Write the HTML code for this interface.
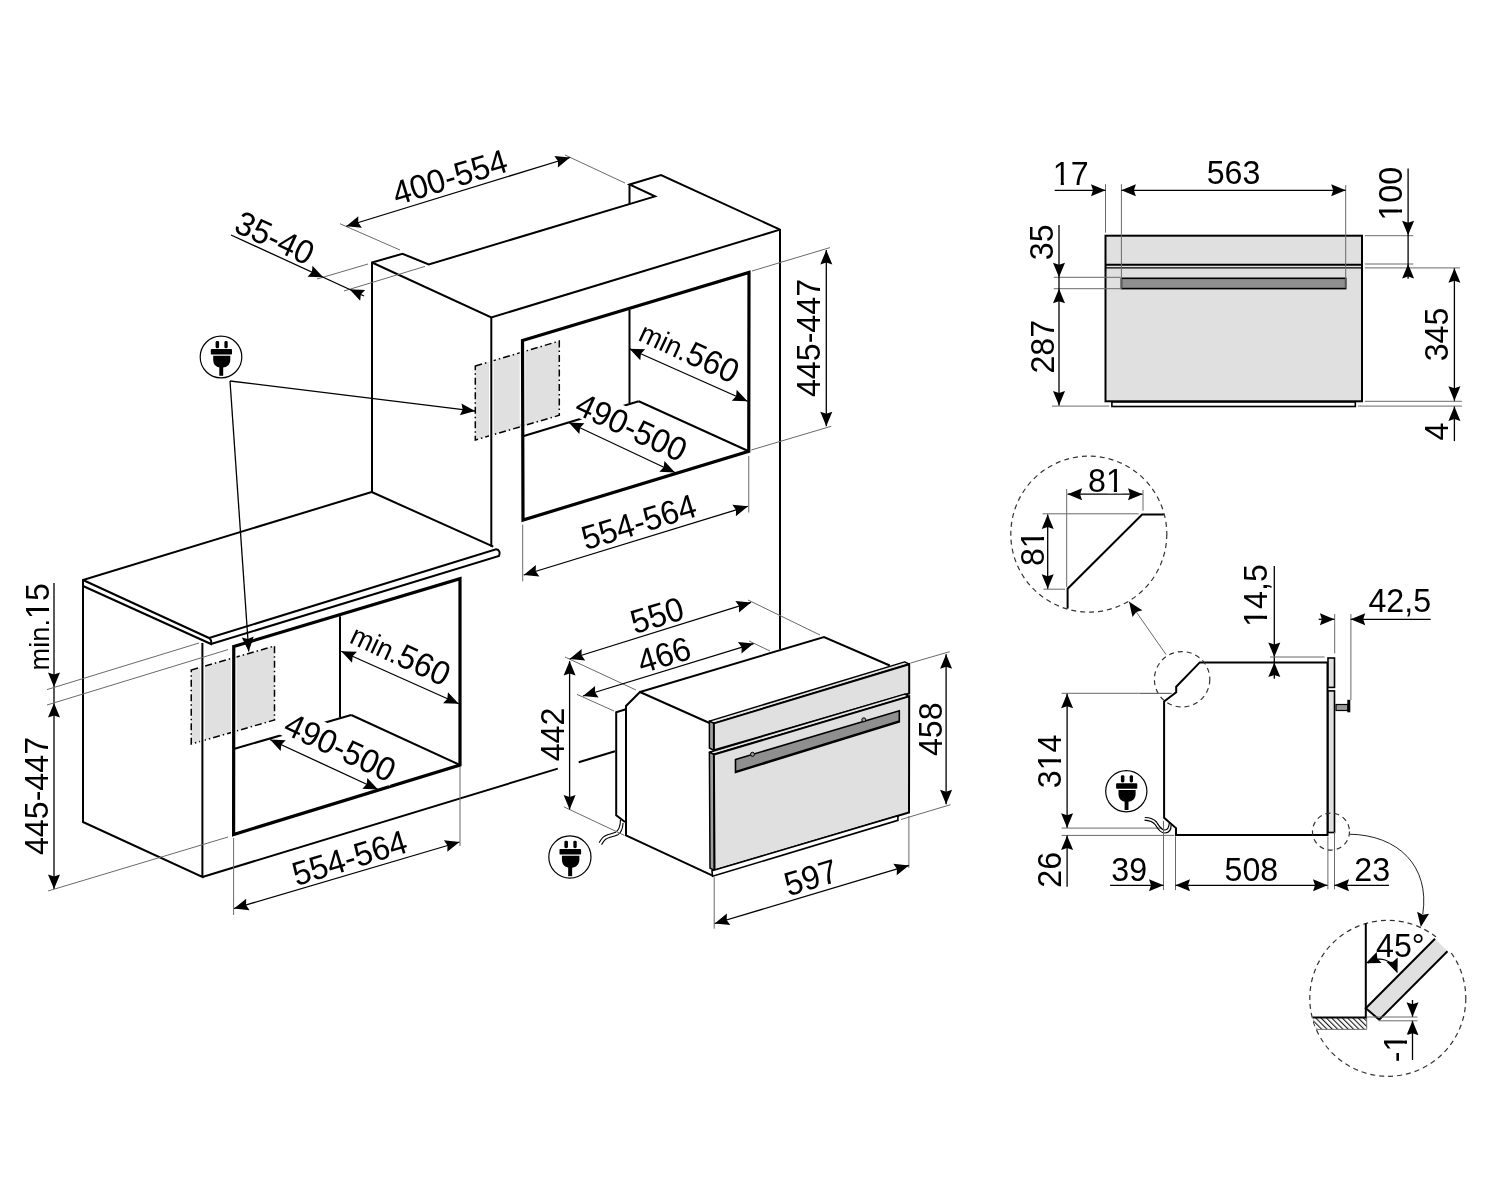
<!DOCTYPE html>
<html><head><meta charset="utf-8"><style>html,body{margin:0;padding:0;background:#fff;width:1500px;height:1200px;overflow:hidden}svg{display:block;will-change:transform}</style></head><body>
<svg width="1500" height="1200" viewBox="0 0 1500 1200">
<defs><style>
.k{fill:none;stroke:#000;stroke-width:2;stroke-linejoin:miter;stroke-linecap:butt}
.t{fill:none;stroke:#000;stroke-width:3.2;stroke-linejoin:miter;stroke-linecap:square}
.d{fill:none;stroke:#000;stroke-width:1.3}
.e{fill:none;stroke:#6a6a6a;stroke-width:1}
.ah{fill:#000;stroke:none}
.tx{font-family:"Liberation Sans",sans-serif;font-size:33.6px;fill:#000;text-anchor:middle}
.th{font-family:"Liberation Sans",sans-serif;font-size:33.6px;fill:#000;text-anchor:middle;stroke:#fff;stroke-width:7;paint-order:stroke;stroke-linejoin:round}
.sh{fill:#e0e0e0;stroke:#000;stroke-width:1.5;stroke-dasharray:7 3 1.5 3}
.dc{fill:none;stroke:#333;stroke-width:1.2;stroke-dasharray:5 4}
.gp{fill:#e0e0e0;stroke:#000;stroke-width:2}
.hd{fill:#8f8f8f;stroke:#000;stroke-width:1.6}
.st2{fill:#e6e6e6;stroke:#000;stroke-width:1.5;stroke-linejoin:round}
.st{fill:#a0a0a0;stroke:#000;stroke-width:1.5;stroke-linejoin:round}
.wg{stroke:#fff;stroke-width:5;fill:none}
.w4{stroke:#fff;stroke-width:4.6;fill:none}
.w5{stroke:#fff;stroke-width:5.6;fill:none}
.bs{fill:#fff;stroke:#000;stroke-width:1.6}
</style>
<pattern id="hatch" patternUnits="userSpaceOnUse" width="3.75" height="3.75" patternTransform="rotate(-45)"><rect width="3.75" height="3.75" fill="#fff"/><line x1="0.6" y1="0" x2="0.6" y2="3.75" stroke="#000" stroke-width="1.0"/></pattern>
</defs>
<rect width="1500" height="1200" fill="#fff"/>
<polygon class="sh" points="475.3,366 559.3,341.1 559.3,415.3 475.3,440"/>
<polygon class="sh" points="191.25,670 274.5,646 274.5,720 191.25,744"/>
<line class="w4" x1="491.3" y1="356" x2="491.3" y2="442"/>
<line class="w5" x1="522.5" y1="341.5" x2="522.5" y2="424"/>
<line class="w4" x1="202.4" y1="664" x2="202.4" y2="746.5"/>
<line class="w5" x1="233.75" y1="647.5" x2="233.75" y2="738"/>
<polyline class="k" points="372,492 372,262.5 402.5,253.75 428.75,264.5 655,196.4 629.5,184.5 661,175 780,229.6 780,649"/>
<line class="k" x1="629.5" y1="184.5" x2="629.5" y2="203.8"/>
<polyline class="k" points="372,262.5 491.3,317.5 780,229.6"/>
<line class="k" x1="491.3" y1="317.5" x2="491.3" y2="546.7"/>
<line class="k" x1="371.7" y1="492" x2="493.3" y2="546.7"/>
<polyline class="k" points="83,586 83,580 371.7,492"/>
<path class="k" d="M83,580 L209,638 Q212,640 211,644 L83,586"/>
<path class="k" d="M209,638 L496,549.3 Q501,550 499,556 L211,644"/>
<polyline class="k" points="83,586 83,822 202.4,877 202.4,643"/>
<line class="k" x1="202.4" y1="877" x2="557.8" y2="768.6"/>
<line class="k" x1="578.7" y1="762.2" x2="615" y2="751.2"/>
<polygon class="t" points="522.5,340.5 749,272.4 748.75,451.25 523,520"/>
<line class="k" x1="629.5" y1="310" x2="629.5" y2="403"/>
<line class="k" x1="638.75" y1="401.25" x2="748.75" y2="451.25"/>
<line class="k" x1="523" y1="436.25" x2="638.75" y2="401.25"/>
<polygon class="t" points="233.75,646.5 460,578.75 460,765 233.6,834.5"/>
<line class="k" x1="340" y1="616.25" x2="340" y2="717.5"/>
<line class="k" x1="351.25" y1="715" x2="460" y2="765"/>
<line class="k" x1="233.75" y1="749" x2="351.25" y2="715"/>
<circle cx="221" cy="357" r="20.8" fill="#fff" stroke="#000" stroke-width="1.2"/>
<g transform="translate(221.5 357) scale(1)" fill="#000"><rect x="-5.9" y="-16.0" width="3.5" height="7.3" rx="1.4"/><rect x="2.9" y="-16.0" width="3.3" height="7.3" rx="1.4"/><rect x="-10.7" y="-7.9" width="21.2" height="5.4" rx="0.8"/><path d="M-8.3,-1.3 L8.8,-1.3 L8.8,2.5 C8.8,8 5,10.3 1.5,10.5 L-1,10.5 C-5,10.3 -8.3,8 -8.3,2.5 Z"/><rect x="-2.2" y="9.5" width="3.9" height="9.3"/></g>
<line class="d" x1="230" y1="381" x2="475.1" y2="411.1"/>
<polygon class="ah" points="475.1,411.1 459.98,415.29 462.69,409.58 461.44,403.38"/>
<line class="d" x1="230" y1="381" x2="248.75" y2="651.5"/>
<polygon class="ah" points="248.75,651.5 241.76,637.45 247.89,639.03 253.73,636.62"/>
<line class="e" x1="340" y1="223.75" x2="400" y2="250"/>
<line class="e" x1="565" y1="155" x2="625" y2="183"/>
<line class="d" x1="346.25" y1="226.25" x2="570" y2="157.5"/>
<polygon class="ah" points="346.25,226.25 358.35,216.26 358.2,222.58 361.87,227.73"/>
<polygon class="ah" points="570,157.5 557.9,167.49 558.05,161.17 554.38,156.02"/>
<text class="tx" x="0" y="12.03" transform="translate(449.6 176.8) rotate(-17) scale(0.958 1)">400-554</text>
<line class="e" x1="317" y1="279" x2="368" y2="264"/>
<line class="e" x1="344" y1="291" x2="425" y2="266.4"/>
<line class="d" x1="231" y1="235" x2="364" y2="296"/>
<polygon class="ah" points="323.2,277.3 307.52,276.71 311.84,272.09 312.52,265.8"/>
<polygon class="ah" points="349.5,289.35 365.18,289.94 360.86,294.56 360.18,300.85"/>
<text class="tx" x="0" y="12.03" transform="translate(275 237.4) rotate(25) scale(0.958 1)">35-40</text>
<line class="d" x1="629.5" y1="348.75" x2="747.5" y2="401.25"/>
<polygon class="ah" points="629.5,348.75 645.19,349.16 640.92,353.83 640.31,360.13"/>
<polygon class="ah" points="747.5,401.25 731.81,400.84 736.08,396.17 736.69,389.87"/>
<text class="tx" x="0" y="12.03" transform="translate(689.6 351) rotate(25) scale(0.958 1)"><tspan style="font-size:28.4px">min.</tspan>560</text>
<line class="d" x1="568.75" y1="422.5" x2="675" y2="472.5"/>
<polygon class="ah" points="568.75,422.5 584.42,423.25 580.06,427.82 579.32,434.1"/>
<polygon class="ah" points="675,472.5 659.33,471.75 663.69,467.18 664.43,460.9"/>
<rect x="-61.05" y="-16.2" width="122.1" height="30.6" fill="#fff" transform="translate(631.5 426.8) rotate(25)"/>
<text class="tx" x="0" y="12.03" transform="translate(631.5 426.8) rotate(25) scale(0.958 1)">490-500</text>
<line class="e" x1="522.7" y1="524.7" x2="522.7" y2="581.3"/>
<line class="e" x1="748.75" y1="456" x2="748.75" y2="512.5"/>
<line class="d" x1="523.75" y1="575" x2="748" y2="506.25"/>
<polygon class="ah" points="523.75,575 535.85,565.01 535.7,571.34 539.37,576.49"/>
<polygon class="ah" points="748,506.25 735.9,516.24 736.05,509.91 732.38,504.76"/>
<text class="tx" x="0" y="12.03" transform="translate(638.6 521.6) rotate(-17) scale(0.958 1)">554-564</text>
<line class="e" x1="752" y1="271" x2="830" y2="247.6"/>
<line class="e" x1="751.25" y1="450" x2="831.25" y2="426.25"/>
<line class="d" x1="826.3" y1="250" x2="826.3" y2="426.25"/>
<polygon class="ah" points="826.3,250 832.3,264.5 826.3,262.5 820.3,264.5"/>
<polygon class="ah" points="826.3,426.25 820.3,411.75 826.3,413.75 832.3,411.75"/>
<text class="tx" x="0" y="12.03" transform="translate(808.2 338) rotate(-90) scale(0.958 1)">445-447</text>
<line class="d" x1="54" y1="583" x2="54" y2="889"/>
<polygon class="ah" points="54,687 48,672.5 54,674.5 60,672.5"/>
<polygon class="ah" points="54,703 60,717.5 54,715.5 48,717.5"/>
<polygon class="ah" points="54,889 48,874.5 54,876.5 60,874.5"/>
<line class="e" x1="47" y1="689.6" x2="199" y2="643"/>
<line class="e" x1="47" y1="705" x2="228" y2="649.6"/>
<line class="e" x1="48" y1="891" x2="228" y2="837"/>
<text class="tx" x="0" y="12.03" transform="translate(37.1 626.8) rotate(-90) scale(0.958 1)"><tspan style="font-size:28.4px">min.</tspan>15</text>
<path d="M9.9,8.22H16.44V13.03H9.9Z M19.71,8.22H25.99V13.03H19.71Z" fill="#fff" transform="translate(37.1 626.8) rotate(-90) scale(0.958 1)"/>
<text class="tx" x="0" y="12.03" transform="translate(36.4 796) rotate(-90) scale(0.958 1)">445-447</text>
<line class="d" x1="341.25" y1="651.25" x2="458.75" y2="703.75"/>
<polygon class="ah" points="341.25,651.25 356.94,651.69 352.66,656.35 352.04,662.64"/>
<polygon class="ah" points="458.75,703.75 443.06,703.31 447.34,698.65 447.96,692.36"/>
<text class="tx" x="0" y="12.03" transform="translate(400.9 653.6) rotate(25) scale(0.958 1)"><tspan style="font-size:28.4px">min.</tspan>560</text>
<line class="d" x1="270" y1="739.5" x2="378" y2="789.5"/>
<polygon class="ah" points="270,739.5 285.68,740.15 281.34,744.75 280.64,751.04"/>
<polygon class="ah" points="378,789.5 362.32,788.85 366.66,784.25 367.36,777.96"/>
<rect x="-61.05" y="-16.2" width="122.1" height="30.6" fill="#fff" transform="translate(340.4 746.9) rotate(25)"/>
<text class="tx" x="0" y="12.03" transform="translate(340.4 746.9) rotate(25) scale(0.958 1)">490-500</text>
<line class="e" x1="233.6" y1="838" x2="233.6" y2="915"/>
<line class="e" x1="460" y1="767" x2="460" y2="846"/>
<line class="d" x1="234" y1="908.5" x2="459.5" y2="842"/>
<polygon class="ah" points="234,908.5 246.21,898.64 245.99,904.96 249.6,910.15"/>
<polygon class="ah" points="459.5,842 447.29,851.86 447.51,845.54 443.9,840.35"/>
<text class="tx" x="0" y="12.03" transform="translate(349.4 857.4) rotate(-17) scale(0.958 1)">554-564</text>
<polyline class="k" points="625.8,709.2 616.2,712.2 616.2,815.2 625,822"/>
<polygon points="640,692 626,706 626,835.4 712,875.3 709.5,721" fill="#fff" stroke="none"/>
<polyline class="k" points="709.5,723 640,692 626,706 626,835.4 712,875.3"/>
<polyline class="k" points="640,692 824,637 889.8,665.5"/>
<polygon class="st2" points="709.4,721.1 904.7,661.9 909.2,664.2 713.9,723.4"/>
<polygon class="st" points="709.4,721.1 713.9,723.4 713.9,750.3 709.4,748"/>
<polygon class="gp" points="713.9,723.4 909.2,664.2 909.2,693.5 713.9,750.3"/>
<polygon class="st2" points="709.4,752.2 904.7,694.1 909.2,696.4 713.9,754.5"/>
<polygon class="st" points="709.4,752.2 713.9,754.5 714.5,870.5 710,868.2"/>
<polygon class="gp" points="713.9,754.5 909.2,696.4 909,812.5 714.5,870.5"/>
<polygon class="bs" points="712,870.8 897.9,815.8 897.9,820.3 712.5,876.3"/>
<polygon class="hd" points="735.5,759.5 899.3,710.8 899.3,721.9 735.5,772.5"/>
<line class="d" x1="736" y1="771.3" x2="899.3" y2="720.8"/>
<circle cx="752.5" cy="754.3" r="2" fill="#999" stroke="#000" stroke-width="1"/>
<circle cx="863.8" cy="719.8" r="2" fill="#999" stroke="#000" stroke-width="1"/>
<path d="M620.5,820 C620.3,826 619.5,830 615.5,832.3 C611,834.5 605.5,834 602.3,838 C600.8,840 599.8,841.5 599.1,842.7" fill="none" stroke="#000" stroke-width="1.1"/>
<path d="M623.1,823 C622.7,829 621.5,832.5 617.8,834.8 C613.5,837.2 607.5,836.8 604.5,840.3 C603,842 602.2,843.5 601.5,844.8" fill="none" stroke="#000" stroke-width="1.1"/>
<circle cx="569.9" cy="857" r="21.1" fill="#fff" stroke="#000" stroke-width="1.2"/>
<g transform="translate(570.4 857) scale(1.02)" fill="#000"><rect x="-5.9" y="-16.0" width="3.5" height="7.3" rx="1.4"/><rect x="2.9" y="-16.0" width="3.3" height="7.3" rx="1.4"/><rect x="-10.7" y="-7.9" width="21.2" height="5.4" rx="0.8"/><path d="M-8.3,-1.3 L8.8,-1.3 L8.8,2.5 C8.8,8 5,10.3 1.5,10.5 L-1,10.5 C-5,10.3 -8.3,8 -8.3,2.5 Z"/><rect x="-2.2" y="9.5" width="3.9" height="9.3"/></g>
<line class="e" x1="565" y1="657" x2="636" y2="690"/>
<line class="e" x1="748" y1="600" x2="820" y2="635"/>
<line class="d" x1="569.6" y1="659" x2="751" y2="602.4"/>
<polygon class="ah" points="569.6,659 581.65,648.95 581.53,655.28 585.23,660.41"/>
<polygon class="ah" points="751,602.4 738.95,612.45 739.07,606.12 735.37,600.99"/>
<text class="tx" x="0" y="12.03" transform="translate(657 614.8) rotate(-17) scale(0.958 1)">550</text>
<line class="e" x1="577" y1="694.4" x2="614" y2="711"/>
<line class="e" x1="749" y1="641" x2="770" y2="651"/>
<line class="d" x1="583" y1="696" x2="753.6" y2="643.6"/>
<polygon class="ah" points="583,696 595.1,686.01 594.95,692.33 598.62,697.48"/>
<polygon class="ah" points="753.6,643.6 741.5,653.59 741.65,647.27 737.98,642.12"/>
<text class="tx" x="0" y="12.03" transform="translate(664 654.5) rotate(-17) scale(0.958 1)">466</text>
<line class="e" x1="563.8" y1="806.8" x2="624.5" y2="835.4"/>
<line class="d" x1="569.6" y1="661" x2="569.6" y2="809.4"/>
<polygon class="ah" points="569.6,661 575.6,675.5 569.6,673.5 563.6,675.5"/>
<polygon class="ah" points="569.6,809.4 563.6,794.9 569.6,796.9 575.6,794.9"/>
<text class="tx" x="0" y="12.03" transform="translate(552.1 734.5) rotate(-90) scale(0.958 1)">442</text>
<line class="e" x1="910.6" y1="663" x2="949.6" y2="651.7"/>
<line class="e" x1="901" y1="819.5" x2="950.5" y2="804.7"/>
<line class="d" x1="946.1" y1="654.3" x2="946.1" y2="804.2"/>
<polygon class="ah" points="946.1,654.3 952.1,668.8 946.1,666.8 940.1,668.8"/>
<polygon class="ah" points="946.1,804.2 940.1,789.7 946.1,791.7 952.1,789.7"/>
<text class="tx" x="0" y="12.03" transform="translate(929.7 729.2) rotate(-90) scale(0.958 1)">458</text>
<line class="e" x1="908.9" y1="816" x2="908.9" y2="868"/>
<line class="e" x1="714.2" y1="876.7" x2="714.2" y2="928.7"/>
<line class="d" x1="714.7" y1="923.5" x2="908.9" y2="865.4"/>
<polygon class="ah" points="714.7,923.5 726.87,913.6 726.68,919.92 730.31,925.09"/>
<polygon class="ah" points="908.9,865.4 896.73,875.3 896.92,868.98 893.29,863.81"/>
<text class="tx" x="0" y="12.03" transform="translate(810.6 877.1) rotate(-17) scale(0.958 1)">597</text>
<rect x="1105.5" y="235.7" width="256.5" height="165.6" fill="#e0e0e0" stroke="#000" stroke-width="2"/>
<line class="k" x1="1105.5" y1="264.8" x2="1361.5" y2="264.8"/>
<line class="d" x1="1105.5" y1="267.9" x2="1361.5" y2="267.9"/>
<rect x="1121.4" y="278.3" width="224.3" height="10.3" fill="#8f8f8f" stroke="#000" stroke-width="1.6"/>
<rect x="1111.9" y="402" width="243.4" height="4.5" fill="#fff" stroke="#000" stroke-width="1.6"/>
<line class="e" x1="1105.5" y1="184.2" x2="1105.5" y2="232.7"/>
<line class="e" x1="1121.4" y1="184.2" x2="1121.4" y2="289"/>
<line class="e" x1="1345.7" y1="185" x2="1345.7" y2="288.2"/>
<line class="d" x1="1054.7" y1="190.3" x2="1105.5" y2="190.3"/>
<polygon class="ah" points="1105.5,190.3 1091,196.3 1093,190.3 1091,184.3"/>
<line class="d" x1="1121.4" y1="190.3" x2="1345.7" y2="190.3"/>
<polygon class="ah" points="1121.4,190.3 1135.9,184.3 1133.9,190.3 1135.9,196.3"/>
<polygon class="ah" points="1345.7,190.3 1331.2,196.3 1333.2,190.3 1331.2,184.3"/>
<text class="tx" x="0" y="12.03" transform="translate(1070.7 172.9) scale(0.958 1)">17</text>
<path d="M-16.93,8.22H-10.39V13.03H-16.93Z M-7.12,8.22H-0.84V13.03H-7.12Z" fill="#fff" transform="translate(1070.7 172.9) scale(0.958 1)"/>
<text class="tx" x="0" y="12.03" transform="translate(1233.5 172) scale(0.958 1)">563</text>
<line class="e" x1="1053.8" y1="277.3" x2="1120.5" y2="277.3"/>
<line class="e" x1="1053.8" y1="288.7" x2="1120.5" y2="288.7"/>
<line class="e" x1="1052" y1="406.1" x2="1109.3" y2="406.1"/>
<line class="d" x1="1059" y1="225" x2="1059" y2="405.6"/>
<polygon class="ah" points="1059,277.3 1053,262.8 1059,264.8 1065,262.8"/>
<polygon class="ah" points="1059,288.7 1065,303.2 1059,301.2 1053,303.2"/>
<polygon class="ah" points="1059,405.6 1053,391.1 1059,393.1 1065,391.1"/>
<text class="tx" x="0" y="12.03" transform="translate(1041.1 242.3) rotate(-90) scale(0.958 1)">35</text>
<text class="tx" x="0" y="12.03" transform="translate(1041.6 346.7) rotate(-90) scale(0.958 1)">287</text>
<line class="e" x1="1364.8" y1="235.7" x2="1413.3" y2="235.7"/>
<line class="e" x1="1364.8" y1="264" x2="1413.3" y2="264"/>
<line class="e" x1="1364.8" y1="267.9" x2="1460" y2="267.9"/>
<line class="e" x1="1364.8" y1="401.3" x2="1461.9" y2="401.3"/>
<line class="e" x1="1357.9" y1="406.1" x2="1461.9" y2="406.1"/>
<line class="d" x1="1408.1" y1="168.6" x2="1408.1" y2="278.7"/>
<polygon class="ah" points="1408.1,235.3 1402.1,220.8 1408.1,222.8 1414.1,220.8"/>
<polygon class="ah" points="1408.1,264 1414.1,278.5 1408.1,276.5 1402.1,278.5"/>
<text class="tx" x="0" y="12.03" transform="translate(1389.9 193.7) rotate(-90) scale(0.958 1)">100</text>
<path d="M-26.27,8.22H-19.73V13.03H-26.27Z M-16.46,8.22H-10.18V13.03H-16.46Z" fill="#fff" transform="translate(1389.9 193.7) rotate(-90) scale(0.958 1)"/>
<line class="d" x1="1454.4" y1="268.3" x2="1454.4" y2="400.8"/>
<polygon class="ah" points="1454.4,268.3 1460.4,282.8 1454.4,280.8 1448.4,282.8"/>
<polygon class="ah" points="1454.4,400.8 1448.4,386.3 1454.4,388.3 1460.4,386.3"/>
<line class="d" x1="1454.4" y1="406.5" x2="1454.4" y2="441.1"/>
<polygon class="ah" points="1454.4,406.5 1460.4,421 1454.4,419 1448.4,421"/>
<text class="tx" x="0" y="12.03" transform="translate(1435.8 334.5) rotate(-90) scale(0.958 1)">345</text>
<text class="tx" x="0" y="12.03" transform="translate(1436.3 431.6) rotate(-90) scale(0.958 1)">4</text>
<circle class="dc" cx="1088.8" cy="534.1" r="78"/>
<polyline class="k" points="1067.6,608.6 1067.6,588.7 1142.1,514.5 1163.8,514.5"/>
<line class="e" x1="1066.7" y1="489" x2="1066.7" y2="587"/>
<line class="e" x1="1143" y1="490" x2="1143" y2="510.7"/>
<line class="d" x1="1067.6" y1="494.2" x2="1142.5" y2="494.2"/>
<polygon class="ah" points="1067.6,494.2 1082.1,488.2 1080.1,494.2 1082.1,500.2"/>
<polygon class="ah" points="1142.5,494.2 1128,500.2 1130,494.2 1128,488.2"/>
<text class="tx" x="0" y="12.03" transform="translate(1105.9 480.3) scale(0.958 1)">81</text>
<path d="M1.76,8.22H8.3V13.03H1.76Z M11.57,8.22H17.85V13.03H11.57Z" fill="#fff" transform="translate(1105.9 480.3) scale(0.958 1)"/>
<line class="e" x1="1042.5" y1="513.8" x2="1138.7" y2="513.8"/>
<line class="e" x1="1043.3" y1="589.2" x2="1065" y2="589.2"/>
<line class="d" x1="1047.7" y1="514.5" x2="1047.7" y2="588.7"/>
<polygon class="ah" points="1047.7,514.5 1053.7,529 1047.7,527 1041.7,529"/>
<polygon class="ah" points="1047.7,588.7 1041.7,574.2 1047.7,576.2 1053.7,574.2"/>
<text class="tx" x="0" y="12.03" transform="translate(1032 548.2) rotate(-90) scale(0.958 1)">81</text>
<path d="M1.76,8.22H8.3V13.03H1.76Z M11.57,8.22H17.85V13.03H11.57Z" fill="#fff" transform="translate(1032 548.2) rotate(-90) scale(0.958 1)"/>
<line class="e" x1="1129.1" y1="601.7" x2="1166" y2="654.5"/>
<polygon class="ah" points="1129.1,601.7 1142.32,610.15 1136.26,611.95 1132.49,617.02"/>
<polyline class="k" points="1327.5,662.4 1199.8,662.4 1176.2,686.7 1176.2,692.3 1164.1,701.5 1164.1,817.7 1176,828.1 1176,835.1 1327.5,835.1 1327.5,662.4"/>
<circle class="dc" cx="1182.1" cy="679.3" r="27.7"/>
<line class="e" x1="1140" y1="693.5" x2="1171.2" y2="693.5"/>
<line class="d" x1="1274.3" y1="566" x2="1274.3" y2="678.7"/>
<polygon class="ah" points="1274.3,657 1268.3,642.5 1274.3,644.5 1280.3,642.5"/>
<polygon class="ah" points="1274.3,662.6 1280.3,677.1 1274.3,675.1 1268.3,677.1"/>
<line class="e" x1="1270" y1="657" x2="1324.6" y2="657"/>
<text class="tx" x="0" y="12.03" transform="translate(1255.1 595.5) rotate(-90) scale(0.958 1)">14,5</text>
<path d="M-30.94,8.22H-24.4V13.03H-30.94Z M-21.13,8.22H-14.85V13.03H-21.13Z" fill="#fff" transform="translate(1255.1 595.5) rotate(-90) scale(0.958 1)"/>
<rect x="1328" y="658" width="6.5" height="29.4" fill="#e0e0e0" stroke="#000" stroke-width="1.6"/>
<rect x="1328" y="690.9" width="6.5" height="141.6" fill="#e0e0e0" stroke="#000" stroke-width="1.6"/>
<rect x="1336" y="704.5" width="12" height="6" fill="#999" stroke="#000" stroke-width="1.2"/>
<rect x="1347.3" y="699.8" width="3" height="12.5" fill="#000"/>
<line class="e" x1="1334.7" y1="614" x2="1334.7" y2="653.3"/>
<line class="e" x1="1350.9" y1="614" x2="1350.9" y2="700"/>
<line class="d" x1="1318.7" y1="619.3" x2="1334.4" y2="619.3"/>
<polygon class="ah" points="1334.4,619.3 1319.9,625.3 1321.9,619.3 1319.9,613.3"/>
<line class="d" x1="1350.7" y1="619.3" x2="1430.7" y2="619.3"/>
<polygon class="ah" points="1350.7,619.3 1365.2,613.3 1363.2,619.3 1365.2,625.3"/>
<text class="tx" x="0" y="12.03" transform="translate(1399.7 599.7) scale(0.958 1)">42,5</text>
<line class="e" x1="1061.6" y1="693.3" x2="1171.7" y2="693.3"/>
<line class="e" x1="1061.6" y1="828.1" x2="1162" y2="828.1"/>
<line class="e" x1="1061.6" y1="835.4" x2="1174.3" y2="835.4"/>
<line class="d" x1="1067.1" y1="693.8" x2="1067.1" y2="827.8"/>
<polygon class="ah" points="1067.1,693.8 1073.1,708.3 1067.1,706.3 1061.1,708.3"/>
<polygon class="ah" points="1067.1,827.8 1061.1,813.3 1067.1,815.3 1073.1,813.3"/>
<text class="tx" x="0" y="12.03" transform="translate(1048.6 761.4) rotate(-90) scale(0.958 1)">314</text>
<path d="M-7.58,8.22H-1.04V13.03H-7.58Z M2.23,8.22H8.5V13.03H2.23Z" fill="#fff" transform="translate(1048.6 761.4) rotate(-90) scale(0.958 1)"/>
<line class="d" x1="1067.1" y1="835.5" x2="1067.1" y2="886.7"/>
<polygon class="ah" points="1067.1,835.5 1073.1,850 1067.1,848 1061.1,850"/>
<text class="tx" x="0" y="12.03" transform="translate(1049.4 869.8) rotate(-90) scale(0.958 1)">26</text>
<circle cx="1126.3" cy="791.2" r="20.6" fill="#fff" stroke="#000" stroke-width="1.2"/>
<g transform="translate(1126.8 791.2) scale(1)" fill="#000"><rect x="-5.9" y="-16.0" width="3.5" height="7.3" rx="1.4"/><rect x="2.9" y="-16.0" width="3.3" height="7.3" rx="1.4"/><rect x="-10.7" y="-7.9" width="21.2" height="5.4" rx="0.8"/><path d="M-8.3,-1.3 L8.8,-1.3 L8.8,2.5 C8.8,8 5,10.3 1.5,10.5 L-1,10.5 C-5,10.3 -8.3,8 -8.3,2.5 Z"/><rect x="-2.2" y="9.5" width="3.9" height="9.3"/></g>
<path d="M1144.8,817.5 C1150,817.6 1154,819 1156.5,822 C1159,825.5 1160.5,829.5 1164.5,830 C1168,830.3 1169,826.5 1169.3,823" fill="none" stroke="#000" stroke-width="1.2"/>
<path d="M1144.5,820.1 C1149.5,820.3 1153,821.5 1155.5,825 C1158,829.5 1160.5,833.2 1165,833 C1170,832.8 1171.2,828.5 1171.1,824.8" fill="none" stroke="#000" stroke-width="1.2"/>
<line class="e" x1="1163.5" y1="820.8" x2="1163.5" y2="890.1"/>
<line class="e" x1="1175.5" y1="836.4" x2="1175.5" y2="890.1"/>
<line class="e" x1="1327.9" y1="836.5" x2="1327.9" y2="889.3"/>
<line class="e" x1="1334.5" y1="832" x2="1334.5" y2="889.3"/>
<line class="d" x1="1110.1" y1="885.3" x2="1163.5" y2="885.3"/>
<polygon class="ah" points="1163.5,885.3 1149,891.3 1151,885.3 1149,879.3"/>
<line class="d" x1="1175.5" y1="885.3" x2="1327.5" y2="885.3"/>
<polygon class="ah" points="1175.5,885.3 1190,879.3 1188,885.3 1190,891.3"/>
<polygon class="ah" points="1327.5,885.3 1313,891.3 1315,885.3 1313,879.3"/>
<line class="d" x1="1334.5" y1="885.3" x2="1389" y2="885.3"/>
<polygon class="ah" points="1334.5,885.3 1349,879.3 1347,885.3 1349,891.3"/>
<text class="tx" x="0" y="12.03" transform="translate(1129.2 869.3) scale(0.958 1)">39</text>
<text class="tx" x="0" y="12.03" transform="translate(1251.4 869.3) scale(0.958 1)">508</text>
<text class="tx" x="0" y="12.03" transform="translate(1372.2 868.5) scale(0.958 1)">23</text>
<circle class="dc" cx="1331" cy="831.6" r="18.5"/>
<path d="M1349.6,834.2 C1398,835 1430,866 1422.8,914" fill="none" stroke="#222" stroke-width="1"/>
<polygon class="ah" points="1420.8,927 1417.17,911.73 1422.77,914.66 1429.02,913.63"/>
<circle class="dc" cx="1387.8" cy="998.3" r="78"/>
<path d="M1312.3,1017.5 L1366.7,1017.5 L1366.7,1029.4 L1316.5,1029.4 Z" fill="url(#hatch)" stroke="none"/>
<polyline points="1366.7,1017.5 1366.7,1029.4 1316.5,1029.4" fill="none" stroke="#666" stroke-width="0.9"/>
<polyline class="k" points="1365.8,923.3 1365.8,1017.5 1312.5,1017.5"/>
<line class="wg" x1="1436.5" y1="936.5" x2="1450" y2="950"/>
<polygon points="1365.8,1008.3 1435,938.7 1447.5,951.3 1379.2,1019.7" fill="#e0e0e0" stroke="none"/>
<polyline class="k" points="1435,938.7 1365.8,1008.3 1379.2,1019.7 1447.5,951.3"/>
<path d="M1368,963 C1380,955 1392,960 1397,972" fill="none" stroke="#000" stroke-width="1.2"/>
<polygon class="ah" points="1365.8,963.3 1376.71,952.02 1377.26,958.32 1381.49,963.03"/>
<polygon class="ah" points="1397.5,973.3 1386.56,962.05 1392.88,961.69 1397.71,957.61"/>
<text class="tx" x="0" y="12.03" transform="translate(1400.4 944.5) scale(0.958 1)">45°</text>
<line class="e" x1="1366.7" y1="1017" x2="1417.5" y2="1017"/>
<line class="e" x1="1379.2" y1="1020.8" x2="1417.5" y2="1020.8"/>
<line class="d" x1="1412.5" y1="1000" x2="1412.5" y2="1016.7"/>
<polygon class="ah" points="1412.5,1016.7 1406.5,1002.2 1412.5,1004.2 1418.5,1002.2"/>
<line class="d" x1="1412.5" y1="1020.8" x2="1412.5" y2="1060"/>
<polygon class="ah" points="1412.5,1020.8 1418.5,1035.3 1412.5,1033.3 1406.5,1035.3"/>
<text class="tx" x="0" y="12.03" transform="translate(1395 1048) rotate(-90) scale(0.958 1)">-1</text>
<path d="M-1.99,8.22H4.55V13.03H-1.99Z M7.82,8.22H14.1V13.03H7.82Z" fill="#fff" transform="translate(1395 1048) rotate(-90) scale(0.958 1)"/>
</svg>
</body></html>
